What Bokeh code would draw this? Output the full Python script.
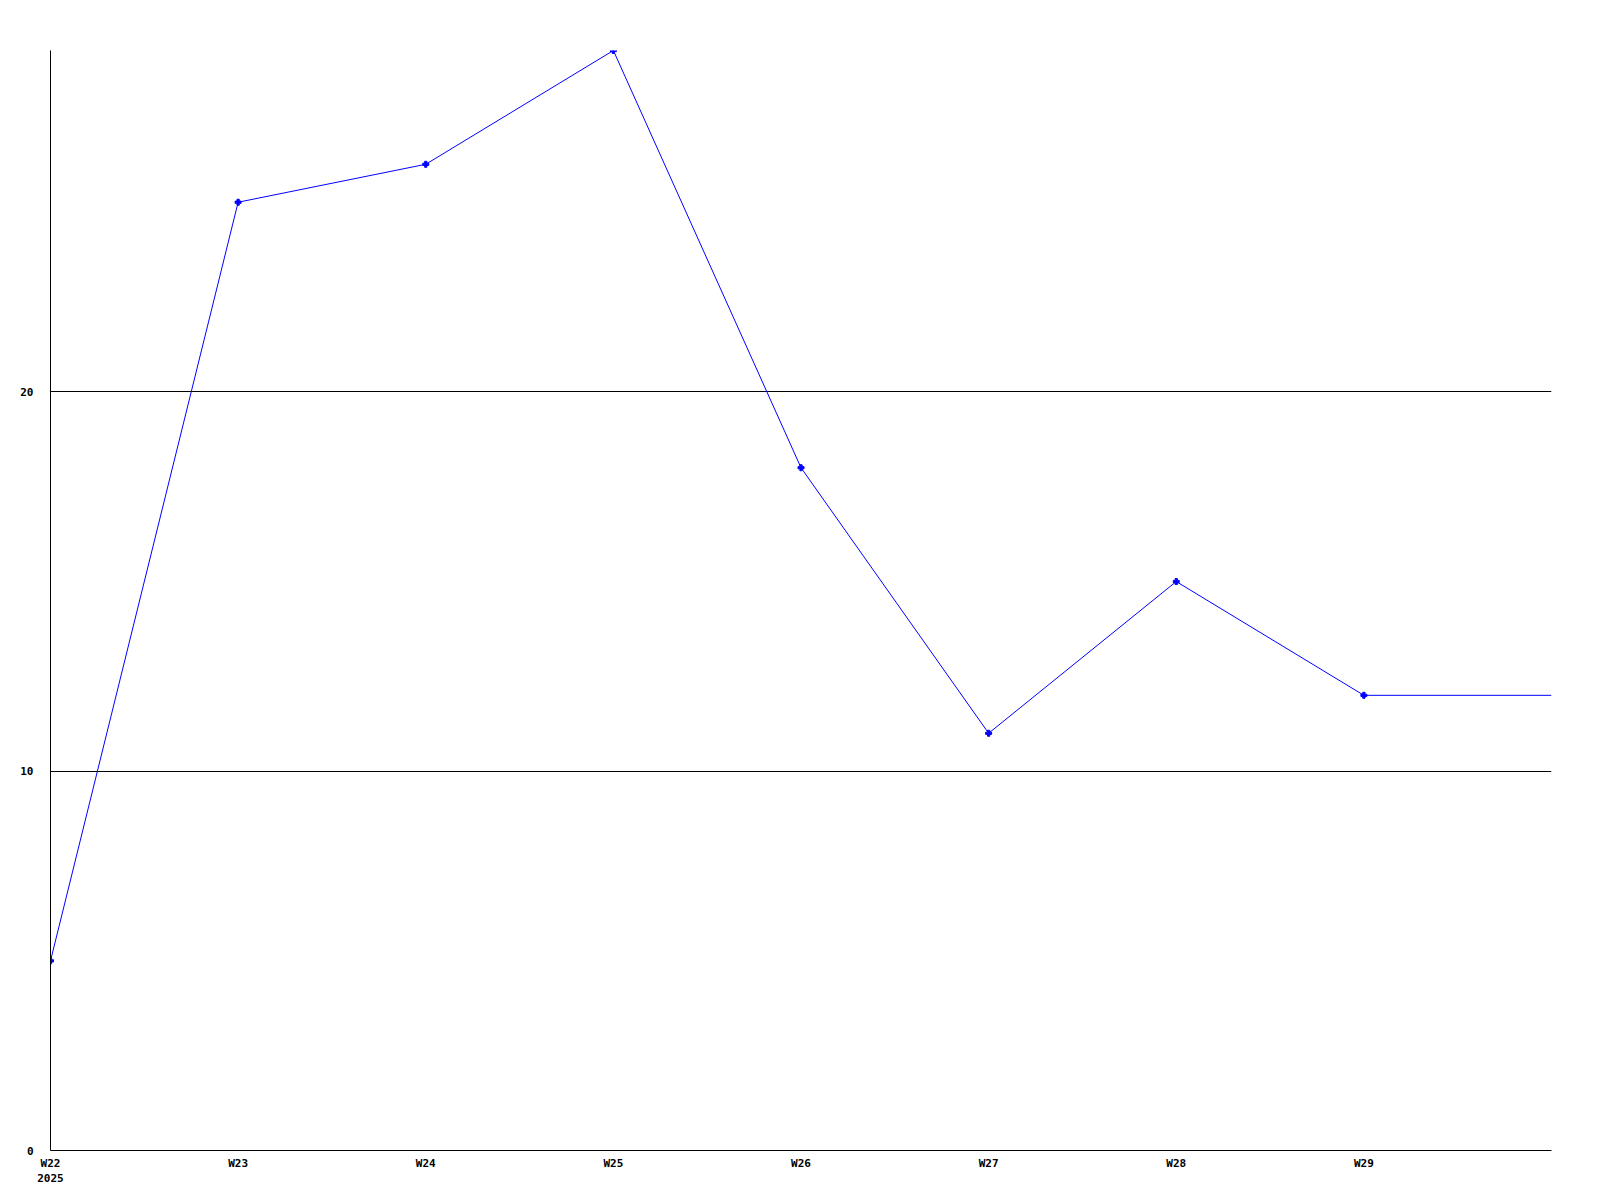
from bokeh.plotting import figure
from bokeh.models import FixedTicker, Range1d
from bokeh.embed import file_html
from bokeh.resources import INLINE

weeks = ["W22\n2025", "W23", "W24", "W25", "W26", "W27", "W28", "W29"]
week_index = [0, 1, 2, 3, 4, 5, 6, 7]
values = [5, 25, 26, 29, 18, 11, 15, 12]
# continuation to the right edge (next week, same value)
tail_index = [7, 8]
tail_values = [12, 12]
y_ticks = [0, 10, 20]

W, H = 1592, 1192
p = figure(width=W, height=H, output_backend="svg", toolbar_location=None,
           x_range=Range1d(0, 8), y_range=Range1d(0, 29),
           min_border_left=50, min_border_right=41, min_border_top=50, min_border_bottom=42)
p.outline_line_color = None
p.background_fill_color = "white"
p.border_fill_color = "white"

font = "DejaVu Sans Mono"
for ax in (p.xaxis[0], p.yaxis[0]):
    ax.major_tick_in = 0
    ax.major_tick_out = 0
    ax.minor_tick_in = 0
    ax.minor_tick_out = 0
    ax.axis_line_color = "black"
    ax.axis_line_width = 1
    ax.major_label_text_font = font
    ax.major_label_text_font_style = "bold"
    ax.major_label_text_font_size = "11px"
    ax.major_label_text_color = "black"

p.xaxis.ticker = FixedTicker(ticks=week_index)
p.xaxis.major_label_overrides = {i: w for i, w in zip(week_index, weeks)}
p.xaxis.major_label_standoff = 6
p.yaxis.ticker = FixedTicker(ticks=y_ticks)
p.yaxis.major_label_standoff = 17
p.yaxis.major_label_text_align = "left"

p.xgrid.grid_line_color = None
p.ygrid.ticker = FixedTicker(ticks=[t for t in y_ticks if t > 0])
p.ygrid.grid_line_color = "black"
p.ygrid.grid_line_alpha = 1.0
p.ygrid.grid_line_width = 1

p.line(week_index, values, line_color="#0000ff", line_width=1)
p.line(tail_index, tail_values, line_color="#0000ff", line_width=1)
p.scatter(week_index, values, marker="plus", size=6, color="#0000ff")

open("out.html", "w").write(file_html(p, INLINE))
